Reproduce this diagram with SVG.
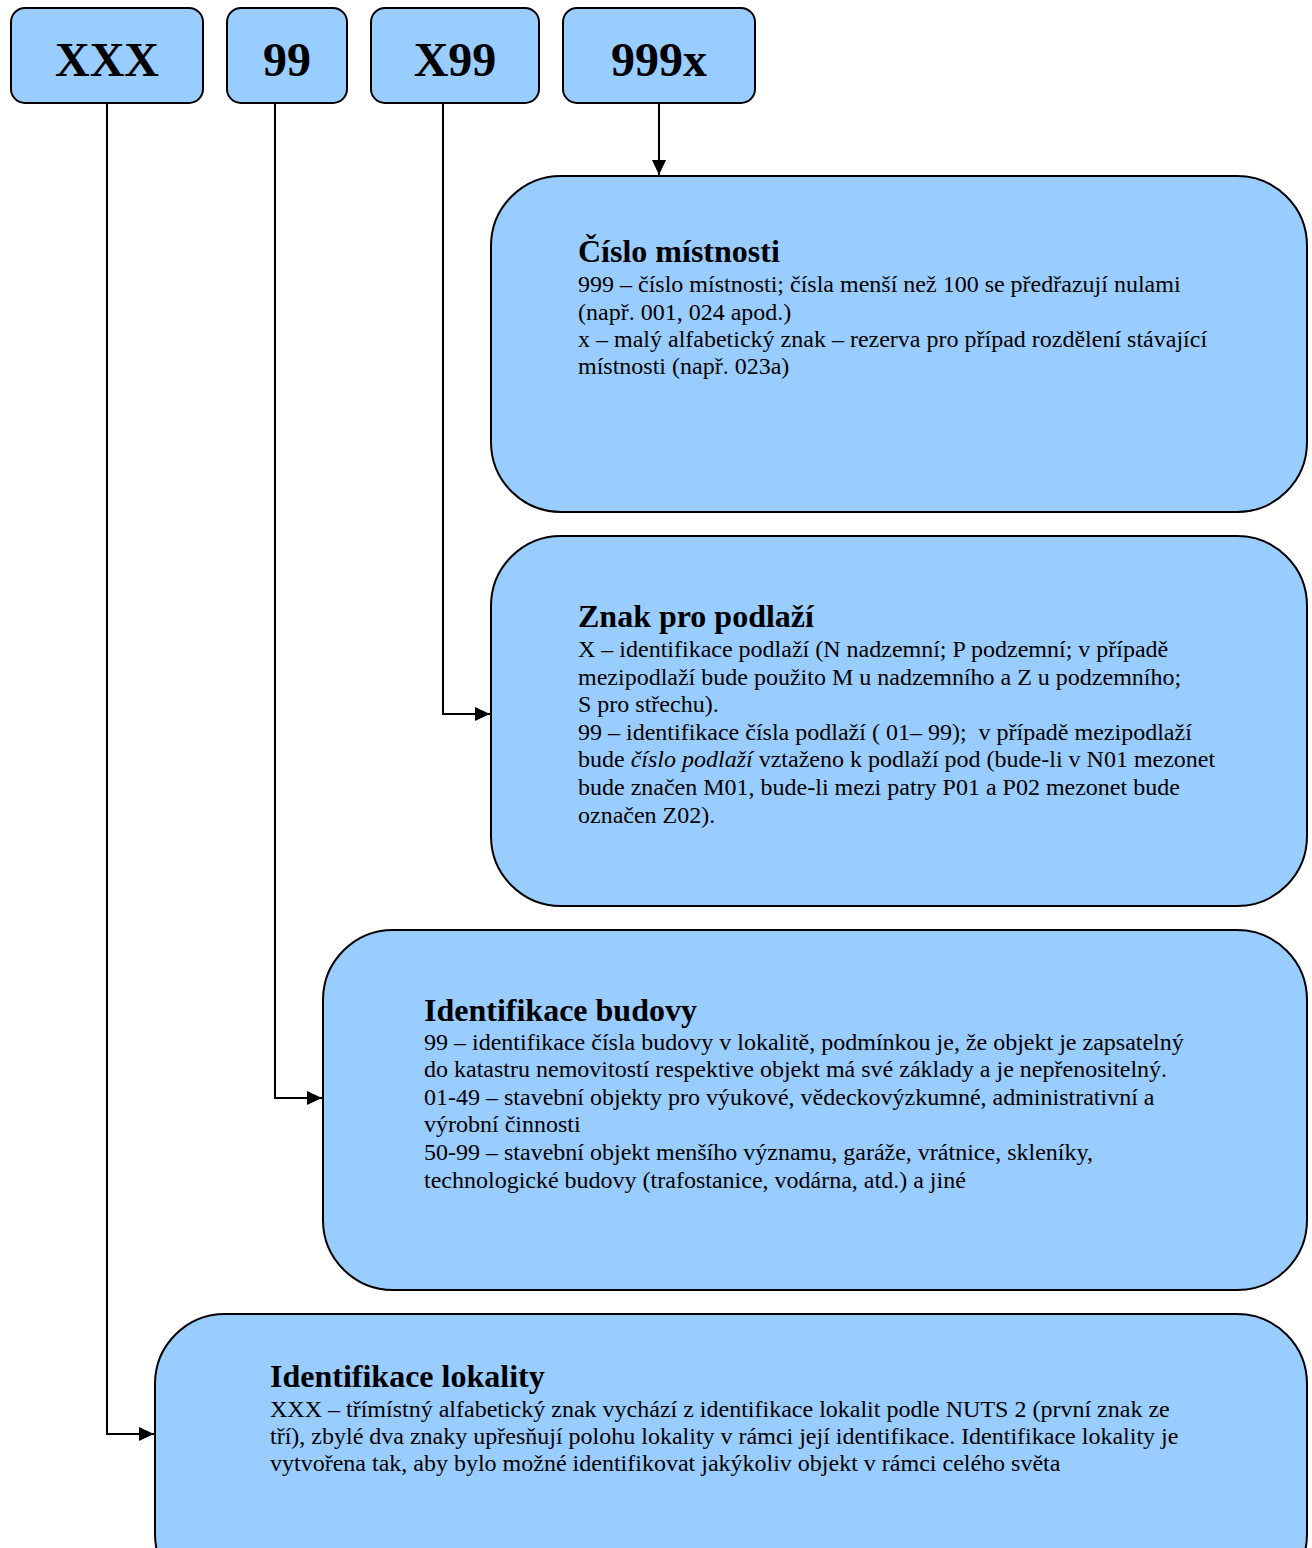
<svg xmlns="http://www.w3.org/2000/svg" width="1312" height="1548" viewBox="0 0 1312 1548">
<style>
.n{fill:#99CCFF;stroke:#000;stroke-width:2}
.k{font-family:"Liberation Serif","Times New Roman",serif;font-weight:bold;font-size:48px;text-anchor:middle;fill:#000}
.t{font-family:"Liberation Serif","Times New Roman",serif;font-weight:bold;font-size:32px;fill:#000}
.b{font-family:"Liberation Serif","Times New Roman",serif;font-size:24px;fill:#000}
.c{fill:none;stroke:#000;stroke-width:2}
</style>
<defs>
<marker id="ah" markerWidth="15" markerHeight="14" refX="15" refY="7" orient="auto" markerUnits="userSpaceOnUse">
<path d="M0,0 L15,7 L0,14 Z" fill="#000"/>
</marker>
</defs>
<g id="connectors">
<path class="c" d="M107,103 V1434 H154" marker-end="url(#ah)"/>
<path class="c" d="M275,103 V1098 H322" marker-end="url(#ah)"/>
<path class="c" d="M443,103 V714 H490" marker-end="url(#ah)"/>
<path class="c" d="M659,103 V175" marker-end="url(#ah)"/>
</g>
<g id="n-xxx"><rect class="n" x="11" y="8" width="192" height="95" rx="14"/><text class="k" x="107" y="76">XXX</text></g>
<g id="n-99"><rect class="n" x="227" y="8" width="120" height="95" rx="14"/><text class="k" x="287" y="76">99</text></g>
<g id="n-x99"><rect class="n" x="371" y="8" width="168" height="95" rx="14"/><text class="k" x="455" y="76">X99</text></g>
<g id="n-999x"><rect class="n" x="563" y="8" width="192" height="95" rx="14"/><text class="k" x="659" y="76">999x</text></g>
<g id="n-mistnost">
<rect class="n" x="491" y="176" width="816" height="336" rx="70"/>
<text class="t" x="578" y="262">Číslo místnosti</text>
<text class="b" x="578" y="292">999 – číslo místnosti; čísla menší než 100 se předřazují nulami</text>
<text class="b" x="578" y="320">(např. 001, 024 apod.)</text>
<text class="b" x="578" y="347">x – malý alfabetický znak – rezerva pro případ rozdělení stávající</text>
<text class="b" x="578" y="374">místnosti (např. 023a)</text>
</g>
<g id="n-podlazi">
<rect class="n" x="491" y="536" width="816" height="370" rx="70"/>
<text class="t" x="578" y="627">Znak pro podlaží</text>
<text class="b" x="578" y="657">X – identifikace podlaží (N nadzemní; P podzemní; v případě</text>
<text class="b" x="578" y="685">mezipodlaží bude použito M u nadzemního a Z u podzemního;</text>
<text class="b" x="578" y="712">S pro střechu).</text>
<text class="b" x="578" y="740" xml:space="preserve">99 – identifikace čísla podlaží ( 01– 99);  v případě mezipodlaží</text>
<text class="b" x="578" y="767">bude <tspan font-style="italic">číslo podlaží</tspan> vztaženo k podlaží pod (bude-li v N01 mezonet</text>
<text class="b" x="578" y="795">bude značen M01, bude-li mezi patry P01 a P02 mezonet bude</text>
<text class="b" x="578" y="823">označen Z02).</text>
</g>
<g id="n-budova">
<rect class="n" x="323" y="930" width="984" height="360" rx="70"/>
<text class="t" x="424" y="1021">Identifikace budovy</text>
<text class="b" x="424" y="1050">99 – identifikace čísla budovy v lokalitě, podmínkou je, že objekt je zapsatelný</text>
<text class="b" x="424" y="1077">do katastru nemovitostí respektive objekt má své základy a je nepřenositelný.</text>
<text class="b" x="424" y="1105">01-49 – stavební objekty pro výukové, vědeckovýzkumné, administrativní a</text>
<text class="b" x="424" y="1132">výrobní činnosti</text>
<text class="b" x="424" y="1160">50-99 – stavební objekt menšího významu, garáže, vrátnice, skleníky,</text>
<text class="b" x="424" y="1188">technologické budovy (trafostanice, vodárna, atd.) a jiné</text>
</g>
<g id="n-lokalita">
<rect class="n" x="155" y="1314" width="1152" height="290" rx="70"/>
<text class="t" x="270" y="1387">Identifikace lokality</text>
<text class="b" x="270" y="1417">XXX – třímístný alfabetický znak vychází z identifikace lokalit podle NUTS 2 (první znak ze</text>
<text class="b" x="270" y="1444">tří), zbylé dva znaky upřesňují polohu lokality v rámci její identifikace. Identifikace lokality je</text>
<text class="b" x="270" y="1471">vytvořena tak, aby bylo možné identifikovat jakýkoliv objekt v rámci celého světa</text>
</g>
</svg>
